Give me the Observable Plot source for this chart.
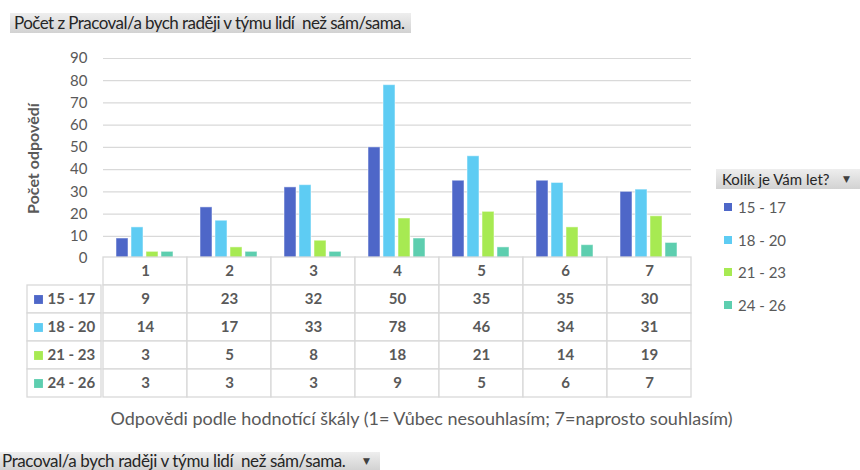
<!DOCTYPE html>
<html><head><meta charset="utf-8">
<script src="https://cdn.jsdelivr.net/npm/d3@7"></script>
<script src="https://cdn.jsdelivr.net/npm/@observablehq/plot@0.6"></script>
<style>
body{margin:0;background:#fff;font-family:Lato,"Open Sans",sans-serif;}
#wrap{position:relative;width:860px;height:470px;overflow:hidden;background:#fff;}
#wrap svg{position:absolute;}
.pill{position:absolute;background:linear-gradient(#eeeeee,#d2d2d2);color:#262626;white-space:pre;box-sizing:border-box;}
.arrow{font-family:"DejaVu Sans",sans-serif;font-size:9px;color:#404040;position:absolute;letter-spacing:0;}
.txt{position:absolute;white-space:nowrap;color:#595959;}
</style></head><body><div id="wrap"></div>
<script>
// ---- data ----
const categories = ["1", "2", "3", "4", "5", "6", "7"];
const series = ["15 - 17", "18 - 20", "21 - 23", "24 - 26"];
const colors = ["#4E67C8", "#5ECCF3", "#A7EA52", "#5DCEAF"];
const values1517 = [9, 23, 32, 50, 35, 35, 30];
const values1820 = [14, 17, 33, 78, 46, 34, 31];
const values2123 = [3, 5, 8, 18, 21, 14, 19];
const values2426 = [3, 3, 3, 9, 5, 6, 7];
const yTicks = [0, 10, 20, 30, 40, 50, 60, 70, 80, 90];
const chartTitle = "Počet z Pracoval/a bych raději v týmu lidí  než sám/sama.";
const legendTitle = "Kolik je Vám let?";
const yLabel = "Počet odpovědí";
const xLabel = "Odpovědi podle hodnotící škály (1= Vůbec nesouhlasím; 7=naprosto souhlasím)";
const filterLabel = "Pracoval/a bych raději v týmu lidí  než sám/sama.";

const seriesValues = [values1517, values1820, values2123, values2426];
const rows = series.flatMap((s, si) => categories.map((c, ci) => ({cat: c, series: s, value: seriesValues[si][ci]})));
const headerKey = "header";
const tableCells = [
  ...categories.map(c => ({cat: c, row: headerKey, text: c})),
  ...rows.map(r => ({cat: r.cat, row: r.series, text: String(r.value)}))
];

const wrap = document.getElementById("wrap");
const FONT = "Lato, 'Open Sans', sans-serif";

// ---- bar chart ----
const chart = Plot.plot({
  width: 860, height: 260,
  marginLeft: 101, marginRight: 167, marginTop: 58, marginBottom: 2,
  style: {fontFamily: FONT, fontSize: "15px", color: "#595959", background: "transparent", overflow: "visible"},
  fx: {domain: categories, padding: 0, axis: null},
  x: {domain: series, paddingInner: 0.17, paddingOuter: 0.78, axis: null},
  y: {domain: [0, 90], axis: null},
  color: {domain: series, range: colors},
  marks: [
    Plot.gridY(yTicks, {stroke: "#d9d9d9", strokeOpacity: 1, strokeWidth: 1.2}),
    Plot.axisY(yTicks, {tickSize: 0, tickPadding: 16, label: null, fill: "#595959", fontSize: 15}),
    Plot.barY(rows, {fx: "cat", x: "series", y: "value", fill: "series", stroke: "white", strokeOpacity: 0.5, strokeWidth: 1}),
    Plot.text([yLabel], {fx: () => categories[0], text: d => d, frameAnchor: "left", textAnchor: "middle", rotate: -90, dx: -70,
      fontWeight: "bold", fontSize: 16, fill: "#595959"})
  ]
});
chart.style.left = "0px"; chart.style.top = "0px";
wrap.appendChild(chart);

// ---- data table: values grid ----
const grid = Plot.plot({
  width: 595, height: 142,
  marginLeft: 1, marginRight: 2, marginTop: 1, marginBottom: 1,
  style: {fontFamily: FONT, fontSize: "15px", background: "transparent", overflow: "visible"},
  x: {type: "band", domain: categories, padding: 0, axis: null},
  y: {type: "band", domain: [headerKey, ...series], padding: 0, axis: null},
  marks: [
    Plot.cell(tableCells, {x: "cat", y: "row", fill: "white", stroke: "#d9d9d9", strokeWidth: 1.3}),
    Plot.text(tableCells, {x: "cat", y: "row", text: "text", fill: "#595959", fontWeight: "bold", fontSize: 15})
  ]
});
grid.style.left = "100px"; grid.style.top = "256px";
wrap.appendChild(grid);

// ---- data table: series label column ----
const labels = Plot.plot({
  width: 76, height: 114,
  marginLeft: 1, marginRight: 1, marginTop: 1, marginBottom: 1,
  style: {fontFamily: FONT, fontSize: "15px", background: "transparent", overflow: "visible"},
  y: {type: "band", domain: series, padding: 0, axis: null},
  color: {domain: series, range: colors},
  marks: [
    Plot.cell(series, {y: d => d, fill: "white", stroke: "#d9d9d9", strokeWidth: 1.3}),
    Plot.dot(series, {y: d => d, frameAnchor: "left", dx: 11, symbol: "square", r: 5, fill: d => d}),
    Plot.text(series, {y: d => d, text: d => d, frameAnchor: "left", dx: 20, textAnchor: "start",
      fill: "#595959", fontWeight: "bold", fontSize: 15})
  ]
});
labels.style.left = "26px"; labels.style.top = "284px";
wrap.appendChild(labels);

// ---- title pill ----
const t = document.createElement("div");
t.className = "pill";
t.style.cssText += "left:10px;top:13px;width:401px;height:20px;font-size:17px;line-height:20px;padding-left:4px;letter-spacing:-0.55px;";
t.textContent = chartTitle;
wrap.appendChild(t);

// ---- legend ----
const lt = document.createElement("div");
lt.className = "pill";
lt.style.cssText += "left:716px;top:169px;width:150px;height:20px;font-size:15px;line-height:20px;padding-left:6px;";
lt.textContent = legendTitle;
const la = document.createElement("span");
la.className = "arrow"; la.textContent = "▼";
la.style.cssText += "left:127px;top:0px;line-height:20px;";
lt.appendChild(la);
wrap.appendChild(lt);
series.forEach((s, i) => {
  const cy = 207 + i * 32.7;
  const sw = document.createElement("div");
  sw.style.cssText = `position:absolute;left:724px;top:${cy - 4}px;width:8px;height:8px;background:${colors[i]};`;
  wrap.appendChild(sw);
  const tx = document.createElement("div");
  tx.className = "txt";
  tx.style.cssText += `left:738px;top:${cy - 10}px;height:20px;line-height:20px;font-size:15px;`;
  tx.textContent = s;
  wrap.appendChild(tx);
});

// ---- x title ----
const xt = document.createElement("div");
xt.className = "txt";
xt.style.cssText += "left:421.5px;top:407px;line-height:22px;font-size:18px;transform:translateX(-50%);";
xt.textContent = xLabel;
wrap.appendChild(xt);

// ---- filter pill ----
const fp = document.createElement("div");
fp.className = "pill";
fp.style.cssText += "left:0px;top:452px;width:380px;height:18px;font-size:17px;line-height:18px;padding-left:2px;letter-spacing:-0.4px;";
fp.textContent = filterLabel;
const fa = document.createElement("span");
fa.className = "arrow"; fa.textContent = "▼";
fa.style.cssText += "left:363px;top:0px;line-height:18px;";
fp.appendChild(fa);
wrap.appendChild(fp);
</script></body></html>
